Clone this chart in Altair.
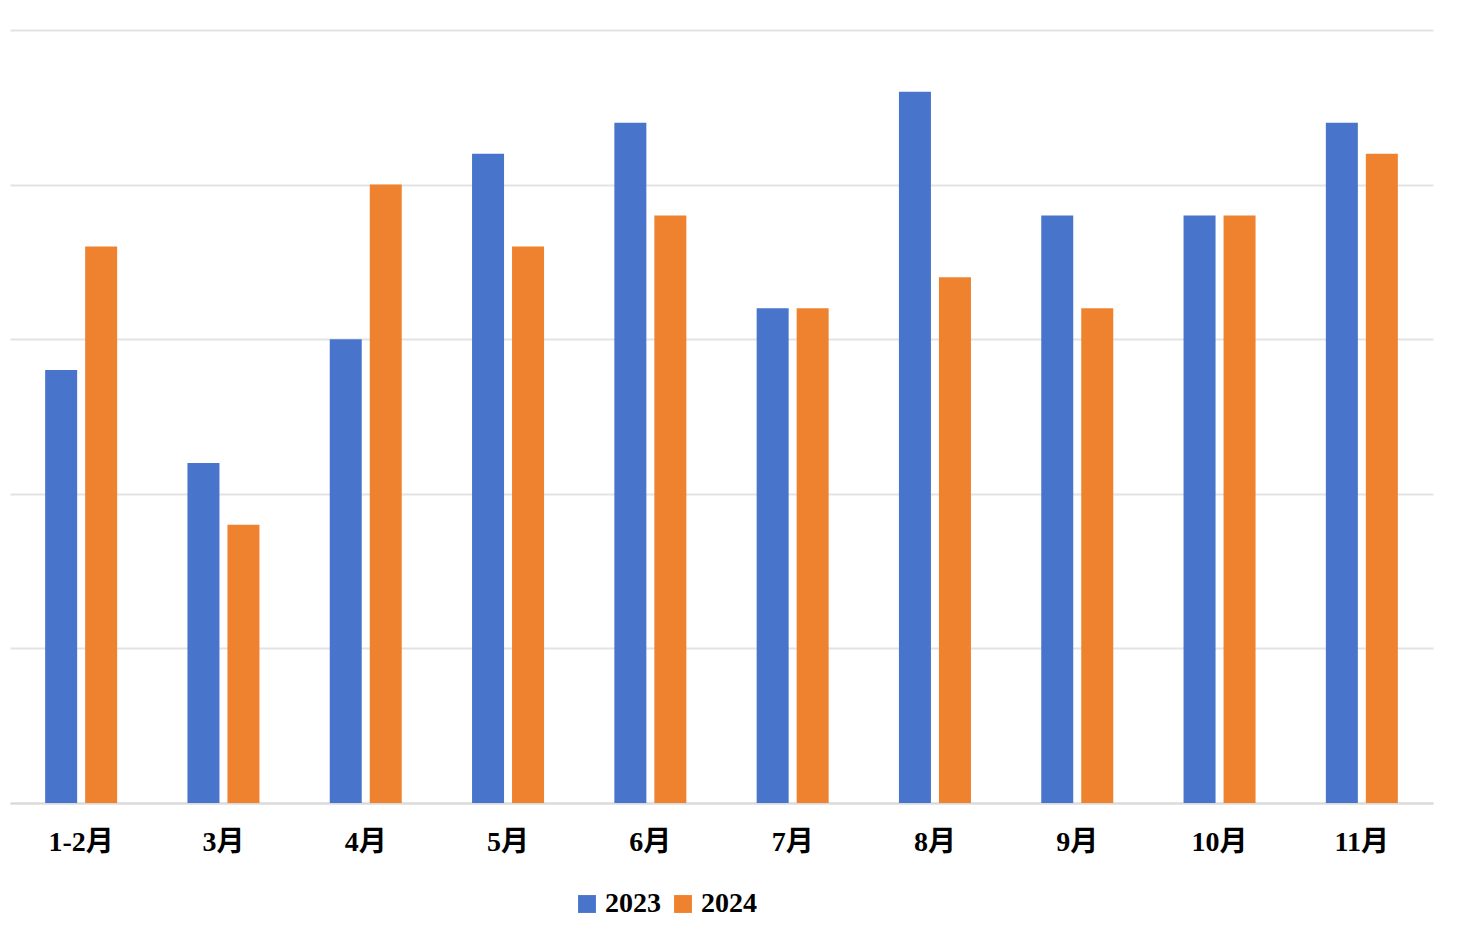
import altair as alt
import pandas as pd

months = ["1-2月", "3月", "4月", "5月", "6月", "7月", "8月", "9月", "10月", "11月"]
v2023 = [14, 11, 15, 21, 22, 16, 23, 19, 19, 22]
v2024 = [18, 9, 20, 18, 19, 16, 17, 16, 19, 21]
years = ["2023", "2024"]
colors = ["#4874CB", "#EE822F"]

rows = []
for m, a, b in zip(months, v2023, v2024):
    rows.append({"month": m, "year": years[0], "value": a})
    rows.append({"month": m, "year": years[1], "value": b})
df = pd.DataFrame(rows)

FONT = "Liberation Serif, Times New Roman, Noto Sans CJK SC"

chart = alt.Chart(df).mark_bar().encode(
    x=alt.X("month:N", sort=months, title=None,
            scale=alt.Scale(paddingInner=0.494, paddingOuter=0.247),
            axis=alt.Axis(labelAngle=0, labelFont=FONT, labelFontSize=28,
                          labelFontWeight="bold", labelColor="#000000",
                          labelPadding=25, ticks=False, domain=True,
                          domainColor="#d9d9d9", domainWidth=2, grid=False)),
    xOffset=alt.XOffset("year:N", sort=years,
                        scale=alt.Scale(paddingInner=0.2, paddingOuter=0)),
    y=alt.Y("value:Q", title=None,
            scale=alt.Scale(domain=[0, 25], nice=False),
            axis=alt.Axis(values=[0, 5, 10, 15, 20, 25], labels=False, ticks=False,
                          domain=False, grid=True, gridColor="#e3e3e3", gridWidth=2)),
    color=alt.Color("year:N", sort=years,
                    scale=alt.Scale(domain=years, range=colors),
                    legend=alt.Legend(title=None, orient="none", direction="horizontal",
                                      legendX=563, legendY=860,
                                      labelFont=FONT, labelFontSize=28,
                                      labelFontWeight="bold", labelColor="#000000",
                                      symbolType="square", symbolSize=320,
                                      symbolStrokeWidth=0, columnPadding=8,
                                      labelOffset=4)),
).properties(
    width=1423, height=773,
    autosize=alt.AutoSizeParams(type="none"),
    padding={"left": 10, "top": 30, "right": 35, "bottom": 139},
).configure(background="#ffffff").configure_view(stroke=None, strokeWidth=0)

chart.save("out.html", embed_options={"renderer": "svg", "actions": False})
